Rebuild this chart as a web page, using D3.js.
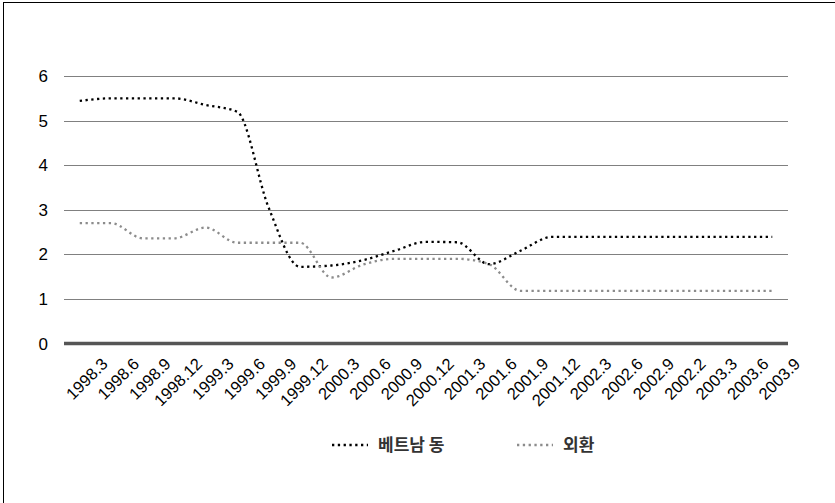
<!DOCTYPE html>
<html>
<head>
<meta charset="utf-8">
<script src="https://cdn.jsdelivr.net/npm/d3@7"></script>
<style>
  body { margin: 0; background: #fff; }
  svg { display: block; }
  text { font-family: "Liberation Sans", Arial, sans-serif; }
</style>
</head>
<body>
<div id="chart"></div>
<script>
// dados
const categories = ['1998.3', '1998.6', '1998.9', '1998.12', '1999.3', '1999.6', '1999.9', '1999.12',
  '2000.3', '2000.6', '2000.9', '2000.12', '2001.3', '2001.6', '2001.9', '2001.12',
  '2002.3', '2002.6', '2002.9', '2002.2', '2003.3', '2003.6', '2003.9'];
const dongValues = [5.44, 5.5, 5.5, 5.5, 5.35, 5.2, 3.05, 1.72, 1.75, 1.87, 2.08, 2.28, 2.27, 1.78, 2.08,
  2.39, 2.39, 2.39, 2.39, 2.39, 2.39, 2.39, 2.39];
const fxValues = [2.7, 2.7, 2.36, 2.36, 2.6, 2.26, 2.26, 2.26, 1.48, 1.77, 1.9, 1.9, 1.9, 1.78, 1.18,
  1.18, 1.18, 1.18, 1.18, 1.18, 1.18, 1.18, 1.18];
const seriesNames = ['베트남 동', '외환'];
const yTicks = [0, 1, 2, 3, 4, 5, 6];

const width = 835, height = 503;
const plotLeft = 64, plotRight = 788, plotTop = 76, plotBottom = 343.5;

const svg = d3.select('#chart').append('svg')
  .attr('width', width)
  .attr('height', height);

// borda (só esquerda e topo aparecem)
svg.append('line').attr('x1', 3.5).attr('x2', 3.5).attr('y1', 2).attr('y2', height)
  .attr('stroke', '#000').attr('stroke-width', 1);
svg.append('line').attr('x1', 3.5).attr('x2', width).attr('y1', 2.5).attr('y2', 2.5)
  .attr('stroke', '#000').attr('stroke-width', 1);

const x = d3.scaleBand()
  .domain(categories)
  .range([plotLeft, plotRight]);

const y = d3.scaleLinear()
  .domain([0, 6])
  .range([plotBottom, plotTop]);

// linhas de grade
svg.selectAll('.grid')
  .data(yTicks.filter(d => d !== 0))
  .enter().append('line')
  .attr('class', 'grid')
  .attr('x1', plotLeft).attr('x2', plotRight)
  .attr('y1', d => Math.round(y(d)) + 0.5).attr('y2', d => Math.round(y(d)) + 0.5)
  .attr('stroke', '#808080')
  .attr('stroke-width', 1.2);

svg.append('line')
  .attr('x1', plotLeft).attr('x2', plotRight)
  .attr('y1', y(0)).attr('y2', y(0))
  .attr('stroke', '#555')
  .attr('stroke-width', 3.3);

// eixo y
svg.selectAll('.ylab')
  .data(yTicks)
  .enter().append('text')
  .attr('class', 'ylab')
  .attr('x', 48)
  .attr('y', d => y(d))
  .attr('dy', '0.36em')
  .attr('text-anchor', 'end')
  .attr('font-size', 17)
  .attr('fill', '#000')
  .text(d => d);

// eixo x
svg.selectAll('.xlab')
  .data(categories)
  .enter().append('text')
  .attr('class', 'xlab')
  .attr('transform', d => `translate(${x(d) + x.bandwidth() / 2 + 29},${365}) rotate(-45)`)
  .attr('text-anchor', 'end')
  .attr('font-size', 16.5)
  .attr('fill', '#000')
  .text(d => d);

const line = d3.line()
  .x((d, i) => x(categories[i]) + x.bandwidth() / 2)
  .y(d => y(d))
  .curve(d3.curveMonotoneX);

const series = [
  { name: seriesNames[0], values: dongValues, color: '#000' },
  { name: seriesNames[1], values: fxValues, color: '#8c8c8c' }
];

svg.selectAll('.serie')
  .data(series)
  .enter().append('path')
  .attr('class', 'serie')
  .attr('d', d => line(d.values))
  .attr('fill', 'none')
  .attr('stroke', d => d.color)
  .attr('stroke-width', 2.3)
  .attr('stroke-dasharray', '2.3,3.5');

// legenda
const legendPos = [332, 517];
const legend = svg.selectAll('.legend')
  .data(series)
  .enter().append('g')
  .attr('class', 'legend')
  .attr('transform', (d, i) => `translate(${legendPos[i]},445)`);

legend.append('line')
  .attr('x1', 0).attr('x2', 36)
  .attr('y1', 0).attr('y2', 0)
  .attr('stroke', d => d.color)
  .attr('stroke-width', 2.3)
  .attr('stroke-dasharray', '2.3,3.5');

legend.append('text')
  .attr('x', 46)
  .attr('y', 0)
  .attr('dy', '0.36em')
  .attr('font-size', 17)
  .attr('font-weight', 600)
  .attr('fill', '#333')
  .style('font-family', '"Noto Sans CJK KR", sans-serif')
  .text(d => d.name);
</script>
</body>
</html>
